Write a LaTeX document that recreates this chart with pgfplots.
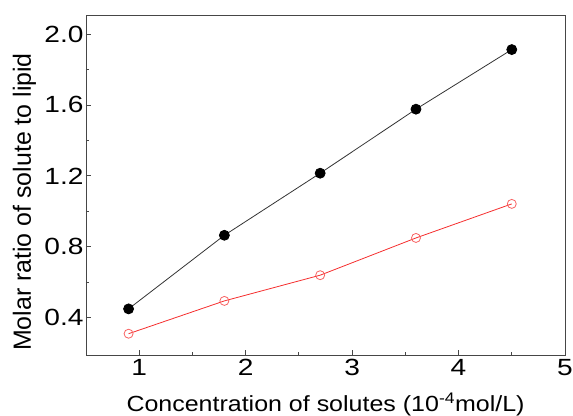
\documentclass[border=0pt]{standalone}
\usepackage{pgfplots}
\pgfplotsset{compat=1.18}
\usetikzlibrary{calc}
\usepackage{fontspec}
\setmainfont{Liberation Sans}
\newfontfamily\tickfont[FakeStretch=1.2]{Liberation Sans}
\newfontfamily\xlabfont[FakeStretch=1.14]{Liberation Sans}
\definecolor{myred}{RGB}{245,45,45}
\definecolor{frame}{RGB}{70,70,70}
\begin{document}
\begin{tikzpicture}
\path[use as bounding box] (-86bp,-61bp) rectangle (487bp,355bp);
\begin{axis}[
  at={(0,0)}, anchor=south west,
  scale only axis, width=479bp, height=340bp,
  xmin=0.5, xmax=5, ymin=0.19, ymax=2.107,
  xtick={1,2,3,4,5}, ytick={0.4,0.8,1.2,1.6,2.0},
  minor xtick={1.5,2.5,3.5,4.5}, minor ytick={0.6,1.0,1.4,1.8},
  yticklabel style={/pgf/number format/fixed,/pgf/number format/fixed zerofill,/pgf/number format/precision=1},
  /pgf/number format/assume math mode=true,
  tick align=inside, tick pos=left,
  major tick length=5bp, minor tick length=3bp,
  axis line style={frame, line width=1pt},
  every tick/.style={frame, line width=0.8pt},
  ticklabel style={font=\tickfont\fontsize{23.5}{26}\selectfont},
  xticklabel style={yshift=-1bp},
  yticklabel style={xshift=1bp},
  xlabel={Concentration of solutes (10\textsuperscript{-4}mol/L)},
  ylabel={Molar ratio of solute to lipid},
  xlabel style={font=\xlabfont\fontsize{22}{26}\selectfont, at={(axis description cs:0.5,0)}, anchor=base, yshift=-56bp},
  ylabel style={font=\fontsize{25}{28}\selectfont, at={($(axis description cs:0,0.45)+(-55bp,0)$)}, anchor=base},
  clip=false,
]
\addplot[black!80, line width=0.8pt, mark=*, mark size=5bp, mark options={fill=black, draw=black}]
  coordinates {(0.9,0.45) (1.8,0.865) (2.7,1.215) (3.6,1.576) (4.5,1.912)};
\addplot[myred, line width=0.8pt, mark=o, mark size=4.5bp, mark options={fill=white, draw=myred!75, line width=0.8pt}]
  coordinates {(0.9,0.31) (1.8,0.495) (2.7,0.64) (3.6,0.85) (4.5,1.042)};
\end{axis}
\end{tikzpicture}
\end{document}
